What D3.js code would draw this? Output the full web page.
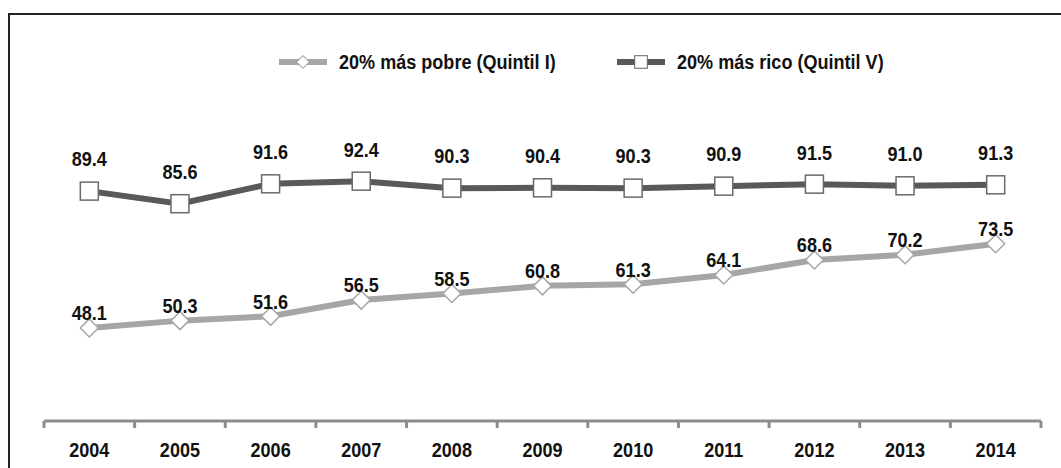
<!DOCTYPE html>
<html>
<head>
<meta charset="utf-8">
<script src="https://cdn.jsdelivr.net/npm/d3@7"></script>
<style>
	body { margin: 0; background: #fff; }
	text { font-family: "Liberation Sans", Arial, sans-serif; font-weight: bold; fill: #111; }
</style>
</head>
<body>
<div class="chart"></div>
<script>
// data
var years = ['2004', '2005', '2006', '2007', '2008', '2009', '2010', '2011', '2012', '2013', '2014'];
var pobre = [48.1, 50.3, 51.6, 56.5, 58.5, 60.8, 61.3, 64.1, 68.6, 70.2, 73.5];
var rico = [89.4, 85.6, 91.6, 92.4, 90.3, 90.4, 90.3, 90.9, 91.5, 91.0, 91.3];
var seriesNames = ['20% más pobre (Quintil I)', '20% más rico (Quintil V)'];

var chart = (function() {

	var width = 1061, height = 468;
	var lightGray = '#a6a6a6', darkGray = '#595959';
	var squeeze = 0.86;   // narrow bold look of the original font
	var fontSize = 21;

	var init = function() {
		var svg = d3.select('.chart')
					.append('svg')
					.attr('width', width)
					.attr('height', height);

		// outer frame, right and bottom edges fall outside the picture
		svg.append('rect')
			.attr('x', 9).attr('y', 14)
			.attr('width', 1100).attr('height', 500)
			.attr('fill', 'none')
			.attr('stroke', '#222')
			.attr('stroke-width', 2);

		var x = d3.scaleBand().domain(years).range([44, 1041]);
		var y = d3.scaleLinear().domain([20, 100]).range([421, 156]);

		drawAxis(svg, x, y);
		drawSeries(svg, x, y, pobre, lightGray, 'diamond', -15);
		drawSeries(svg, x, y, rico, darkGray, 'square', -32);
		drawLegend(svg);
	};

	// squeezed text placed at (px, py)
	var narrowText = function(sel, px, py, str, anchor) {
		return sel.append('text')
			.attr('transform', 'translate(' + px + ',' + py + ') scale(' + squeeze + ',1)')
			.attr('dy', '0.35em')
			.attr('text-anchor', anchor || 'middle')
			.attr('font-size', fontSize)
			.text(str);
	};

	var drawAxis = function(svg, x, y) {
		var axis = d3.axisBottom(x).tickSize(0).tickFormat('');
		var g = svg.append('g')
					.attr('transform', 'translate(0,' + y(20) + ')')
					.call(axis);
		g.select('.domain').remove();

		g.selectAll('.tick').each(function(d) {
			narrowText(d3.select(this), 0, 29, d);
		});

		// axis line with ticks on the band edges
		var edges = years.map(function(d) { return x(d); }).concat([x.range()[1]]);
		g.append('line')
			.attr('x1', x.range()[0]).attr('x2', x.range()[1])
			.attr('stroke', '#8c8c8c').attr('stroke-width', 3);
		g.selectAll('.edge')
			.data(edges)
			.enter()
				.append('line')
				.attr('class', 'edge')
				.attr('x1', function(d) { return d; })
				.attr('x2', function(d) { return d; })
				.attr('y1', 0).attr('y2', 7)
				.attr('stroke', '#8c8c8c').attr('stroke-width', 3);
	};

	var marker = function(sel, type, color) {
		if (type === 'diamond') {
			sel.append('path')
				.attr('d', 'M0,-9L9,0L0,9L-9,0Z')
				.attr('fill', '#fff')
				.attr('stroke', color)
				.attr('stroke-width', 1.5);
		} else {
			sel.append('rect')
				.attr('x', -9).attr('y', -9)
				.attr('width', 18).attr('height', 18)
				.attr('fill', '#fff')
				.attr('stroke', '#6a6a6a')
				.attr('stroke-width', 1.5);
		}
	};

	var drawSeries = function(svg, x, y, values, color, type, labelOffset) {
		var cx = function(d, i) { return x(years[i]) + x.bandwidth() / 2; };

		var line = d3.line()
					.x(cx)
					.y(function(d) { return y(d); });

		svg.append('path')
			.datum(values)
			.attr('d', line)
			.attr('fill', 'none')
			.attr('stroke', color)
			.attr('stroke-width', 6);

		var pts = svg.selectAll('.pt-' + type)
					.data(values)
					.enter()
						.append('g')
						.attr('class', 'pt-' + type)
						.attr('transform', function(d, i) { return 'translate(' + cx(d, i) + ',' + y(d) + ')'; });
		marker(pts, type, color);

		var labels = svg.append('g');
		values.forEach(function(d, i) {
			narrowText(labels, cx(d, i), y(d) + labelOffset, d.toFixed(1));
		});
	};

	var drawLegend = function(svg) {
		var items = [
			{ name: seriesNames[0], x: 279, color: '#a6a6a6', type: 'diamond' },
			{ name: seriesNames[1], x: 617, color: '#595959', type: 'square' }
		];
		var ly = 62, len = 48;

		items.forEach(function(it) {
			svg.append('line')
				.attr('x1', it.x).attr('x2', it.x + len)
				.attr('y1', ly).attr('y2', ly)
				.attr('stroke', it.color)
				.attr('stroke-width', 6);
			var m = svg.append('g').attr('transform', 'translate(' + (it.x + len / 2) + ',' + ly + ') scale(0.7)');
			marker(m, it.type, it.color);
			narrowText(svg, it.x + len + 12, ly, it.name, 'start');
		});
	};

	return {
		'init': init
	};
})();

chart.init();
</script>
</body>
</html>
